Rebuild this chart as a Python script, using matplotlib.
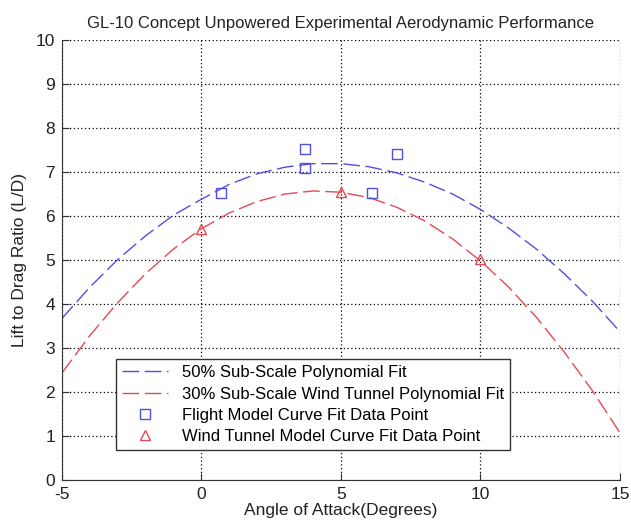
import numpy as np
import matplotlib
matplotlib.use('Agg')
import matplotlib.pyplot as plt

plt.rcParams['font.family'] = ['Liberation Sans', 'DejaVu Sans']
plt.rcParams['axes.unicode_minus'] = False

# Curve readings (every 1 degree)
aoa = [-5, -4, -3, -2, -1, 0, 1, 2, 3, 4, 5, 6, 7, 8, 9, 10, 11, 12, 13, 14, 15]
fit_50 = [3.67, 4.38, 5.01, 5.55, 6.02, 6.38, 6.72, 6.96, 7.11, 7.19, 7.19,
          7.12, 6.98, 6.77, 6.50, 6.15, 5.73, 5.25, 4.69, 4.07, 3.37]
fit_30 = [2.43, 3.28, 4.03, 4.69, 5.25, 5.71, 6.07, 6.33, 6.50, 6.57, 6.54,
          6.42, 6.20, 5.89, 5.48, 4.98, 4.39, 3.70, 2.91, 2.04, 1.07]

# Data points
flight_x = [0.7, 3.7, 3.7, 6.1, 7.0]
flight_y = [6.53, 7.52, 7.10, 6.53, 7.42]
tunnel_x = [0, 5, 10]
tunnel_y = [5.70, 6.55, 5.02]

blue = '#5050e0'
red = '#e84850'

fig = plt.figure(figsize=(6.31, 5.25), dpi=100)
ax = fig.add_axes([0.098, 0.0857, 0.8846, 0.8381])

ax.plot(aoa, fit_50, color=blue, lw=1.0, dashes=(12, 4), label='50% Sub-Scale Polynomial Fit')
ax.plot(aoa, fit_30, color=red, lw=1.0, dashes=(12, 4), label='30% Sub-Scale Wind Tunnel Polynomial Fit')
ax.plot(flight_x, flight_y, 's', color=blue, mfc='none', ms=7, mew=1.0,
        label='Flight Model Curve Fit Data Point')
ax.plot(tunnel_x, tunnel_y, '^', color=red, mfc='none', ms=7, mew=1.0,
        label='Wind Tunnel Model Curve Fit Data Point')

ax.set_xlim(-5, 15)
ax.set_ylim(0, 10)
ax.set_xticks([-5, 0, 5, 10, 15])
ax.set_yticks(range(0, 11))
ax.grid(True, color='black', linestyle=(0, (1, 2)), linewidth=0.9)
ax.spines['top'].set_visible(False)
ax.spines['right'].set_visible(False)
ax.spines['left'].set_color('#333333')
ax.spines['bottom'].set_color('#333333')
ax.tick_params(direction='in', length=5, labelsize=12.5, colors='#333333', labelcolor='#222222')
ax.tick_params(axis='x', pad=5)
ax.tick_params(axis='y', pad=5)

ax.set_title('GL-10 Concept Unpowered Experimental Aerodynamic Performance',
             fontsize=12, color='#222222', pad=9)
ax.set_xlabel('Angle of Attack(Degrees)', fontsize=12.5, color='#222222', labelpad=1)
ax.set_ylabel('Lift to Drag Ratio (L/D)', fontsize=12.5, color='#222222', labelpad=6)

leg = ax.legend(loc='lower left', bbox_to_anchor=(0.097, 0.068), fontsize=12,
                fancybox=False, framealpha=1, edgecolor='#333333',
                borderpad=0.35, labelspacing=0.38, handlelength=2.8, handletextpad=0.8,
                borderaxespad=0)
leg.get_frame().set_linewidth(1.0)

fig.savefig('out.png', dpi=100)
